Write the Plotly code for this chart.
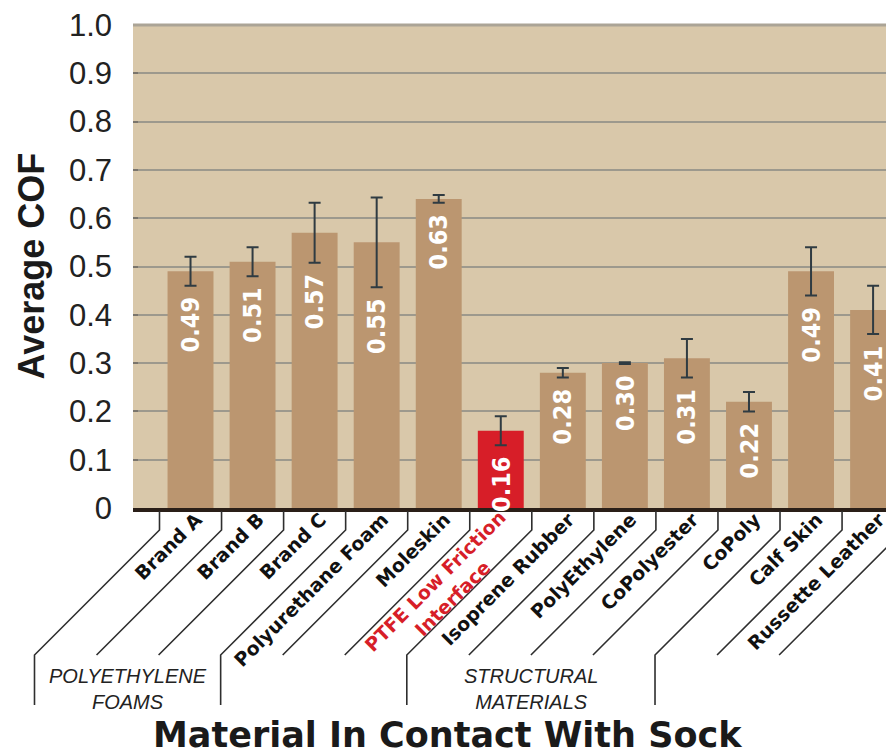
import plotly.graph_objects as go

# ---------------- data ----------------
categories = ["Brand A", "Brand B", "Brand C", "Polyurethane Foam", "Moleskin",
              "PTFE Low Friction<br>Interface", "Isoprene Rubber", "PolyEthylene",
              "CoPolyester", "CoPoly", "Calf Skin", "Russette Leather"]
avg_cof = [0.49, 0.51, 0.57, 0.55, 0.64, 0.16, 0.28, 0.30, 0.31, 0.22, 0.49, 0.41]
value_labels = ["0.49", "0.51", "0.57", "0.55", "0.63", "0.16",
                "0.28", "0.30", "0.31", "0.22", "0.49", "0.41"]
err_plus = [0.03, 0.03, 0.062, 0.093, 0.008, 0.03, 0.01, 0.002, 0.04, 0.02, 0.05, 0.05]
err_minus = [0.03, 0.03, 0.062, 0.093, 0.008, 0.03, 0.01, 0.002, 0.04, 0.02, 0.05, 0.05]
highlight_index = 5
y_tick_vals = [0, 0.1, 0.2, 0.3, 0.4, 0.5, 0.6, 0.7, 0.8, 0.9, 1.0]
y_tick_text = ["0", "0.1", "0.2", "0.3", "0.4", "0.5", "0.6", "0.7", "0.8", "0.9", "1.0"]
group_names = ["POLYETHYLENE<br>FOAMS", "STRUCTURAL<br>MATERIALS"]
group_first = [0, 6]
group_last = [2, 9]
y_title = "Average COF"
x_title = "Material In Contact With Sock"

# ---------------- styling ----------------
BG = "#d9c8aa"
BAR = "#bb9670"
RED = "#d71e28"
ERR = "#2f3b42"
LINE = "#2e2e2e"
X_RANGE = [-0.927, 11.337]
W, H = 886, 746          # page adds an 8px body margin
ML, MT, MB = 125, 17, 246
PLOT_W = W - ML

def xpaper(v):
    return (v - X_RANGE[0]) / (X_RANGE[1] - X_RANGE[0])

n = len(categories)
xs = list(range(n))
colors = [RED if i == highlight_index else BAR for i in xs]

fig = go.Figure()
fig.add_trace(go.Bar(
    x=xs, y=avg_cof, width=0.74,
    marker=dict(color=colors, line=dict(width=0)),
    error_y=dict(type="data", symmetric=False, array=err_plus, arrayminus=err_minus,
                 color=ERR, thickness=2, width=6),
    hoverinfo="skip",
))

ann = []
# value labels inside bars, rotated
for i in xs:
    ann.append(dict(
        x=i, y=avg_cof[i] - err_minus[i], xref="x", yref="y",
        text=value_labels[i], showarrow=False, textangle=-90,
        xanchor="center", yanchor="top", yshift=-9,
        font=dict(family="DejaVu Sans Condensed, Liberation Sans Narrow, sans-serif",
                  size=25, color="white", weight="bold"),
    ))

# highlighted category label (two centered lines)
ann.append(dict(
    x=highlight_index, y=0, xref="x", yref="paper",
    text=categories[highlight_index], showarrow=False, textangle=-45,
    xanchor="right", yanchor="top", align="center", xshift=30, yshift=5,
    font=dict(family="DejaVu Sans", size=19, color=RED, weight="bold"),
))

# group labels
for name, a, b in zip(group_names, group_first, group_last):
    cx = (xpaper(a - 0.5) + xpaper(b + 0.5)) / 2
    ann.append(dict(
        x=cx, y=0, xref="paper", yref="paper", text=name, showarrow=False,
        xanchor="center", yanchor="middle", xshift=-125, yshift=-181,
        align="center",
        font=dict(family="Liberation Sans", size=20, color="#222222", style="italic"),
    ))

# axis titles
ann.append(dict(
    x=0, y=0.5, xref="paper", yref="paper", text=y_title, showarrow=False,
    textangle=-90, xanchor="center", yanchor="middle", xshift=-(133 - 31),
    font=dict(family="Liberation Sans", size=36, color="#1a1a1a", weight="bold"),
))
ann.append(dict(
    x=(447 - 133) / PLOT_W, y=0, xref="paper", yref="paper",
    text=x_title, showarrow=False, xanchor="center", yanchor="middle", yshift=-227,
    font=dict(family="DejaVu Sans", size=35, color="#1a1a1a", weight="bold"),
))

# leader lines for the category labels
shapes = []
bracket_bounds = set()
for a, b in zip(group_first, group_last):
    bracket_bounds.add(a - 0.5)
    bracket_bounds.add(b + 0.5)
for k in range(n + 1):
    bnd = k - 0.5
    path = "M0,-3 L0,-22 L-125,-147"
    if bnd in bracket_bounds:
        path += " L-125,-197"
    shapes.append(dict(
        type="path", path=path, xref="paper", yref="paper",
        xsizemode="pixel", ysizemode="pixel", xanchor=xpaper(bnd), yanchor=0,
        line=dict(color=LINE, width=1.6),
    ))
# top border of the plot area
shapes.append(dict(type="line", xref="paper", yref="paper", x0=0, x1=1, y0=1, y1=1,
                   line=dict(color="#aba496", width=3)))

fig.update_layout(
    template="none",
    width=W, height=H,
    margin=dict(l=ML, r=0, t=MT, b=MB, autoexpand=False),
    paper_bgcolor="white", plot_bgcolor=BG,
    showlegend=False,
    bargap=0.26,
    annotations=ann,
    shapes=shapes,
    xaxis=dict(
        range=X_RANGE, tickmode="array", tickvals=xs,
        ticktext=["" if i == highlight_index else c for i, c in enumerate(categories)],
        tickangle=-45, ticks="", showgrid=False, zeroline=False,
        showline=True, linecolor="#2a1f18", linewidth=4,
        ticklabelstandoff=-11, ticklabelshift=6, ticklabeloverflow="allow",
        tickfont=dict(family="DejaVu Sans", size=19, color="#111111", weight="bold"),
        automargin=False, fixedrange=True,
    ),
    yaxis=dict(
        range=[0, 1], tickmode="array", tickvals=y_tick_vals, ticktext=y_tick_text,
        showgrid=True, gridcolor="#9d998d", gridwidth=1.5, zeroline=False,
        ticks="inside", ticklen=5, tickcolor="#7a756c", tickwidth=1.5,
        ticklabelstandoff=20, ticklabeloverflow="allow",
        tickfont=dict(family="Liberation Sans Narrow, Liberation Sans", size=31, color="#222222"),
        showline=False, automargin=False, fixedrange=True,
    ),
)

fig.write_html("out.html")
